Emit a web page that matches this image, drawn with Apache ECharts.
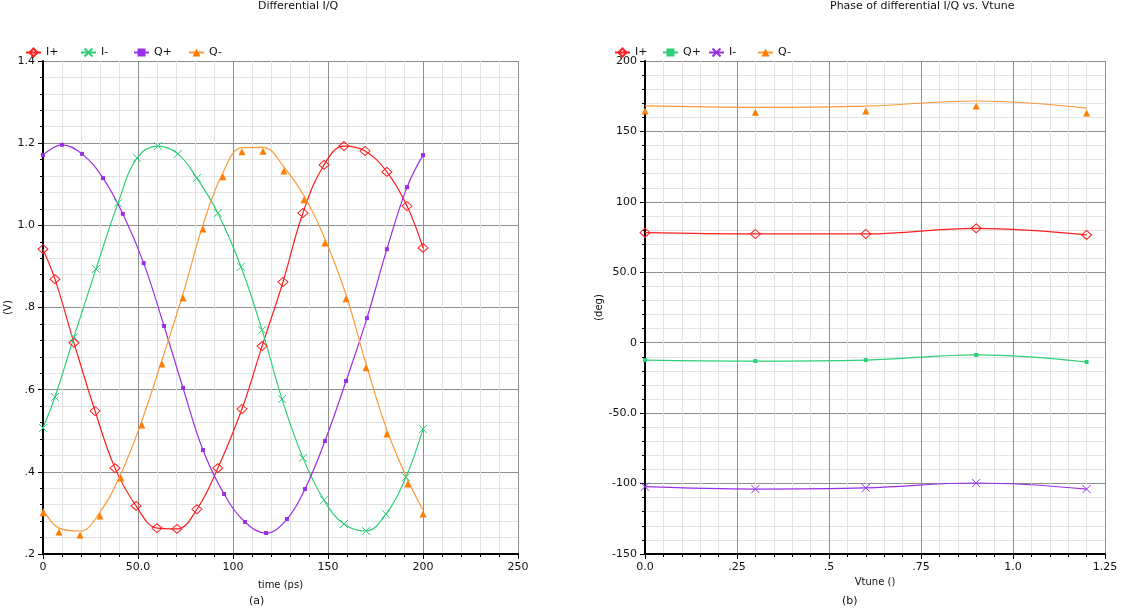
<!DOCTYPE html>
<html>
<head>
<meta charset="utf-8">
<script src="https://cdn.jsdelivr.net/npm/echarts@6/dist/echarts.min.js"></script>
<style>
  html, body { margin: 0; padding: 0; background: #fff; }
  #chart { width: 1125px; height: 614px; }
</style>
</head>
<body>
<div id="chart"></div>
<script>
// ---- (a) Differential I/Q : voltage vs time ----
const iPlusT  = [0, 6.3, 16.3, 27.4, 37.9, 49, 60, 70.5, 81, 92, 104.7, 115.3, 126.3, 136.8, 147.9, 158.4, 169.5, 181, 191.6, 200];
const iPlusV  = [0.942, 0.869, 0.714, 0.548, 0.409, 0.317, 0.263, 0.261, 0.309, 0.409, 0.553, 0.706, 0.862, 1.030, 1.147, 1.193, 1.181, 1.130, 1.047, 0.945];
const iMinusT = [0, 6.3, 16.3, 27.9, 39.5, 49.5, 60.5, 71, 81, 92, 104.2, 115.3, 125.8, 136.8, 147.9, 158.4, 170, 180.5, 191, 200];
const iMinusV = [0.507, 0.582, 0.728, 0.894, 1.054, 1.164, 1.193, 1.174, 1.115, 1.030, 0.899, 0.745, 0.577, 0.434, 0.331, 0.273, 0.256, 0.297, 0.387, 0.504];
const qPlusT  = [0, 10, 20.5, 31.6, 42, 53, 63.7, 73.7, 84.2, 95.3, 106.3, 117.4, 128.4, 137.9, 148.4, 159.5, 170.5, 181, 191.6, 200];
const qPlusV  = [1.171, 1.196, 1.174, 1.115, 1.028, 0.908, 0.755, 0.604, 0.453, 0.346, 0.278, 0.251, 0.285, 0.358, 0.475, 0.621, 0.774, 0.942, 1.093, 1.171];
const qMinusT = [0, 8.4, 19.5, 30, 41, 52, 62.6, 73.7, 84.2, 94.7, 104.7, 115.8, 126.8, 137.4, 148.4, 159.5, 170, 181, 192, 200];
const qMinusV = [0.310, 0.263, 0.256, 0.302, 0.395, 0.524, 0.672, 0.833, 1.001, 1.128, 1.189, 1.190, 1.142, 1.072, 0.967, 0.831, 0.663, 0.502, 0.380, 0.307];

const timeTickLabels = ['0', '50.0', '100', '150', '200', '250'];
const voltTickLabels = ['.2', '.4', '.6', '.8', '1.0', '1.2', '1.4'];

// ---- (b) Phase of differential I/Q vs. Vtune ----
const vtune       = [0, 0.3, 0.6, 0.9, 1.2];
const phaseIPlus  = [78.1, 77.2, 77.2, 81.2, 76.5];
const phaseQPlus  = [-12.3, -13.0, -12.3, -8.7, -13.7];
const phaseIMinus = [-102.2, -103.9, -103.1, -99.6, -103.9];
const phaseQMinus = [168.1, 167.1, 168.0, 171.6, 166.6];

const vtuneTickLabels = ['0.0', '.25', '.5', '.75', '1.0', '1.25'];
const degTickLabels   = ['-150', '-100', '-50.0', '0', '50.0', '100', '150', '200'];

// ---- styling ----
const FONT = 'DejaVu Sans';
const RED = '#ff1f1f', GREEN = '#2fcf78', PURPLE = '#9a2fe8', ORANGE_LINE = '#ff9a36', ORANGE_MARK = '#ff7d00';

const MARK = {
  diamond: { symbol: 'path://M5,0L10,5L5,10L0,5Z', size: [10, 9], filled: false },
  cross:   { symbol: 'path://M0,0L10,10M10,0L0,10', size: [8, 8], filled: false },
  square:  { symbol: 'rect', size: [4, 4], filled: true },
  tri:     { symbol: 'triangle', size: [7, 7], filled: true }
};

function zip(xs, ys) { return xs.map((x, i) => [x, ys[i]]); }

function lineSeries(name, idx, xs, ys, color, markColor, mark, offset) {
  return {
    type: 'line',
    name: name,
    xAxisIndex: idx,
    yAxisIndex: idx,
    data: zip(xs, ys),
    smooth: 0.4,
    symbol: mark.symbol,
    symbolSize: mark.size,
    symbolOffset: [0, offset || 0],
    showSymbol: true,
    lineStyle: { color: color, width: 1.2 },
    itemStyle: mark.filled
      ? { color: markColor, borderWidth: 0 }
      : { color: 'rgba(0,0,0,0)', borderColor: markColor, borderWidth: 1 },
    emphasis: { disabled: true },
    z: 3
  };
}

function axisCommon(min, max, interval, labels, grid) {
  return {
    type: 'value',
    gridIndex: grid,
    min: min,
    max: max,
    interval: interval,
    axisLine: { show: true, onZero: false, lineStyle: { color: '#000', width: 2 } },
    axisTick: { show: true, length: 5, lineStyle: { color: '#000' } },
    minorTick: { show: true, splitNumber: 5, length: 3, lineStyle: { color: '#000' } },
    splitLine: { show: true, lineStyle: { color: '#8e8e8e', width: 1 } },
    minorSplitLine: { show: true, lineStyle: { color: '#e3e3e3', width: 1 } },
    axisLabel: {
      fontFamily: FONT, fontSize: 11, color: '#111',
      formatter: v => labels[Math.round((v - min) / interval)]
    },
    nameTextStyle: { fontFamily: FONT, fontSize: 10, color: '#111' }
  };
}

function legendAt(name, left) {
  return {
    data: [name],
    left: left,
    top: 42,
    itemWidth: 15,
    itemHeight: 10,
    itemGap: 0,
    selectedMode: false,
    formatter: n => n.slice(2),
    textStyle: { fontFamily: FONT, fontSize: 11, color: '#111', padding: [0, 0, 0, 0] }
  };
}

const chart = echarts.init(document.getElementById('chart'), null, { renderer: 'canvas' });

chart.setOption({
  animation: false,
  backgroundColor: '#fff',
  grid: [
    { left: 43, top: 61, width: 475, height: 493 },
    { left: 645, top: 61, width: 460, height: 493 }
  ],
  xAxis: [
    Object.assign(axisCommon(0, 250, 50, timeTickLabels, 0), {
      name: 'time (ps)', nameLocation: 'middle', nameGap: 26
    }),
    Object.assign(axisCommon(0, 1.25, 0.25, vtuneTickLabels, 1), {
      name: 'Vtune ()', nameLocation: 'middle', nameGap: 22
    })
  ],
  yAxis: [
    Object.assign(axisCommon(0.2, 1.4, 0.2, voltTickLabels, 0), {
      name: '(V)', nameLocation: 'middle', nameGap: 26, nameRotate: 90
    }),
    Object.assign(axisCommon(-150, 200, 50, degTickLabels, 1), {
      name: '(deg)', nameLocation: 'middle', nameGap: 23, nameRotate: 90
    })
  ],
  legend: [
    legendAt('a:I+', 20), legendAt('a:I-', 75), legendAt('a:Q+', 128), legendAt('a:Q-', 183),
    legendAt('b:I+', 609), legendAt('b:Q+', 657), legendAt('b:I-', 703), legendAt('b:Q-', 752)
  ],
  graphic: [
    { type: 'text', left: 258, top: 1, style: { text: 'Differential I/Q', font: '11px ' + FONT, fill: '#111', textAlign: 'center' } },
    { type: 'text', left: 830, top: 1, style: { text: 'Phase of differential I/Q vs. Vtune', font: '11px ' + FONT, fill: '#111', textAlign: 'center' } },
    { type: 'text', left: 249, top: 596, style: { text: '(a)', font: '11px ' + FONT, fill: '#111' } },
    { type: 'text', left: 842, top: 596, style: { text: '(b)', font: '11px ' + FONT, fill: '#111' } }
  ],
  series: [
    lineSeries('a:I+', 0, iPlusT,  iPlusV,  RED,    RED,    MARK.diamond),
    lineSeries('a:I-', 0, iMinusT, iMinusV, GREEN,  GREEN,  MARK.cross),
    lineSeries('a:Q+', 0, qPlusT,  qPlusV,  PURPLE, PURPLE, MARK.square),
    lineSeries('a:Q-', 0, qMinusT, qMinusV, ORANGE_LINE, ORANGE_MARK, MARK.tri, 4),
    lineSeries('b:I+', 1, vtune, phaseIPlus,  RED,    RED,    MARK.diamond),
    lineSeries('b:Q+', 1, vtune, phaseQPlus,  GREEN,  GREEN,  MARK.square),
    lineSeries('b:I-', 1, vtune, phaseIMinus, PURPLE, PURPLE, MARK.cross),
    lineSeries('b:Q-', 1, vtune, phaseQMinus, ORANGE_LINE, ORANGE_MARK, MARK.tri, 5)
  ]
});
</script>
</body>
</html>
